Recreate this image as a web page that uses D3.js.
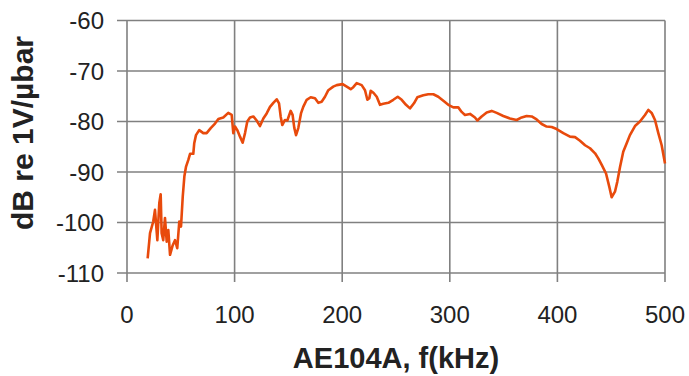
<!DOCTYPE html>
<html><head><meta charset="utf-8">
<script src="https://cdn.jsdelivr.net/npm/d3@7"></script>
<style>body{margin:0;background:#fff}svg{display:block}text{font-family:"Liberation Sans",Arial,sans-serif;fill:#222}</style>
</head><body><svg width="689" height="376"></svg>
<script>
const xTicks=[0,100,200,300,400,500];
const yTicks=[-60,-70,-80,-90,-100,-110];
const freq=[19.2,21.4,24.4,26,28.2,30,31.3,32.2,33.7,35.3,36.9,38.4,40,42.5,44.6,46.7,48.6,50.2,51.8,53.3,54.8,57,58.6,61.6,62.5,64.1,67.1,70.9,74,77.8,81.8,84.9,89.5,94.1,97.3,98.8,100.4,102.5,105,107.5,109.7,111.8,114.3,117.4,120.5,123.6,126.7,129.8,132.9,136,139.1,141.3,142.8,144.3,146.8,149,152.1,153.9,155.5,157.1,159.2,161.7,163.8,167,170.7,174.7,177.8,180.9,184,187.1,191.7,194.9,200.4,204.2,207.9,210.3,213.5,218.1,221.2,223.4,225.2,226.5,229,232.1,235.1,238.2,242.9,247.5,251.6,255.3,259.3,263,266.7,269.8,275.4,280,284.7,289.3,294,298.6,303.3,307.9,311,314.1,318.8,323.4,325.6,329.6,334.3,338.9,343.6,349.7,355.9,362.1,366.8,371.4,376.1,380.7,385.4,390,394.7,399.3,405.5,411.7,416.4,421,425.7,430.3,435,438,441.2,445.2,448.2,450.4,453.5,455.7,458.2,461.2,464.4,467.4,472.1,476.7,481.4,484.5,487.6,490.7,493.8,496.9,500];
const dB=[-107.1,-102.1,-99.8,-97.5,-103.5,-96.2,-94.4,-102.1,-103.5,-99.1,-103.8,-101.5,-106.4,-104.5,-103.5,-105.1,-99.8,-100.8,-94.9,-90.9,-89.0,-87.6,-86.4,-86.4,-84.3,-82.7,-81.7,-82.3,-82.3,-81.3,-80.4,-79.5,-79.2,-78.3,-78.7,-82.3,-81.0,-81.7,-83.0,-84.2,-82.3,-80.0,-79.2,-79.0,-79.8,-80.9,-79.4,-78.4,-77.1,-76.3,-75.6,-76.4,-79.0,-80.7,-79.7,-79.8,-77.9,-78.7,-81.3,-82.7,-81.3,-78.4,-77.1,-75.7,-75.2,-75.4,-76.3,-76.1,-75.1,-73.8,-73.1,-72.8,-72.6,-73.1,-73.6,-73.2,-72.4,-72.8,-73.8,-75.7,-75.4,-73.9,-74.3,-75.1,-76.7,-76.5,-76.3,-75.7,-75.1,-75.7,-76.7,-77.4,-76.4,-75.2,-74.8,-74.6,-74.6,-75.1,-75.9,-76.7,-77.2,-77.2,-78.1,-78.7,-78.5,-79.2,-79.8,-79.0,-78.2,-77.9,-78.3,-78.9,-79.4,-79.7,-79.2,-78.9,-79.0,-79.6,-80.5,-81.0,-81.1,-81.5,-82.3,-83.0,-83.1,-83.8,-84.7,-85.3,-86.3,-87.3,-88.6,-90.3,-92.9,-95.0,-93.9,-91.9,-89.0,-86.0,-84.3,-82.7,-80.9,-80.0,-78.7,-77.7,-78.3,-79.7,-82.3,-84.7,-88.3];
const xTitle="AE104A, f(kHz)";
const yTitle="dB re 1V/µbar";

const svg=d3.select("svg");
const L=127,R=665,T=20.5,B=273;
const x=d3.scaleLinear().domain([0,500]).range([L,R]);
const y=d3.scaleLinear().domain([-110,-60]).range([B,T]);
const grid="#808080";
svg.append("g").selectAll("line").data(yTicks).join("line")
  .attr("x1",L-10).attr("x2",R).attr("y1",d=>y(d)).attr("y2",d=>y(d))
  .attr("stroke",grid).attr("stroke-width",1.6);
svg.append("g").selectAll("line").data(xTicks).join("line")
  .attr("x1",d=>x(d)).attr("x2",d=>x(d)).attr("y1",T).attr("y2",B+9)
  .attr("stroke",grid).attr("stroke-width",1.6);
svg.append("g").selectAll("text").data(yTicks).join("text")
  .attr("x",104).attr("y",d=>y(d)).attr("dy","0.36em").attr("text-anchor","end")
  .attr("font-size",24).text(d=>d);
svg.append("g").selectAll("text").data(xTicks).join("text")
  .attr("x",d=>x(d)).attr("y",323).attr("text-anchor","middle")
  .attr("font-size",24).text(d=>d);
svg.append("text").attr("x",396).attr("y",368).attr("text-anchor","middle")
  .attr("font-size",29).attr("font-weight","bold").text(xTitle);
svg.append("text").attr("transform","translate(33,133) rotate(-90)").attr("text-anchor","middle")
  .attr("font-size",30).attr("font-weight","bold").text(yTitle);
const pts=freq.map((f,i)=>[f,dB[i]]);
svg.append("path").datum(pts)
  .attr("d",d3.line().x(d=>x(d[0])).y(d=>y(d[1])))
  .attr("fill","none").attr("stroke","#e84a0c").attr("stroke-width",2.6).attr("stroke-linejoin","round");
</script></body></html>
